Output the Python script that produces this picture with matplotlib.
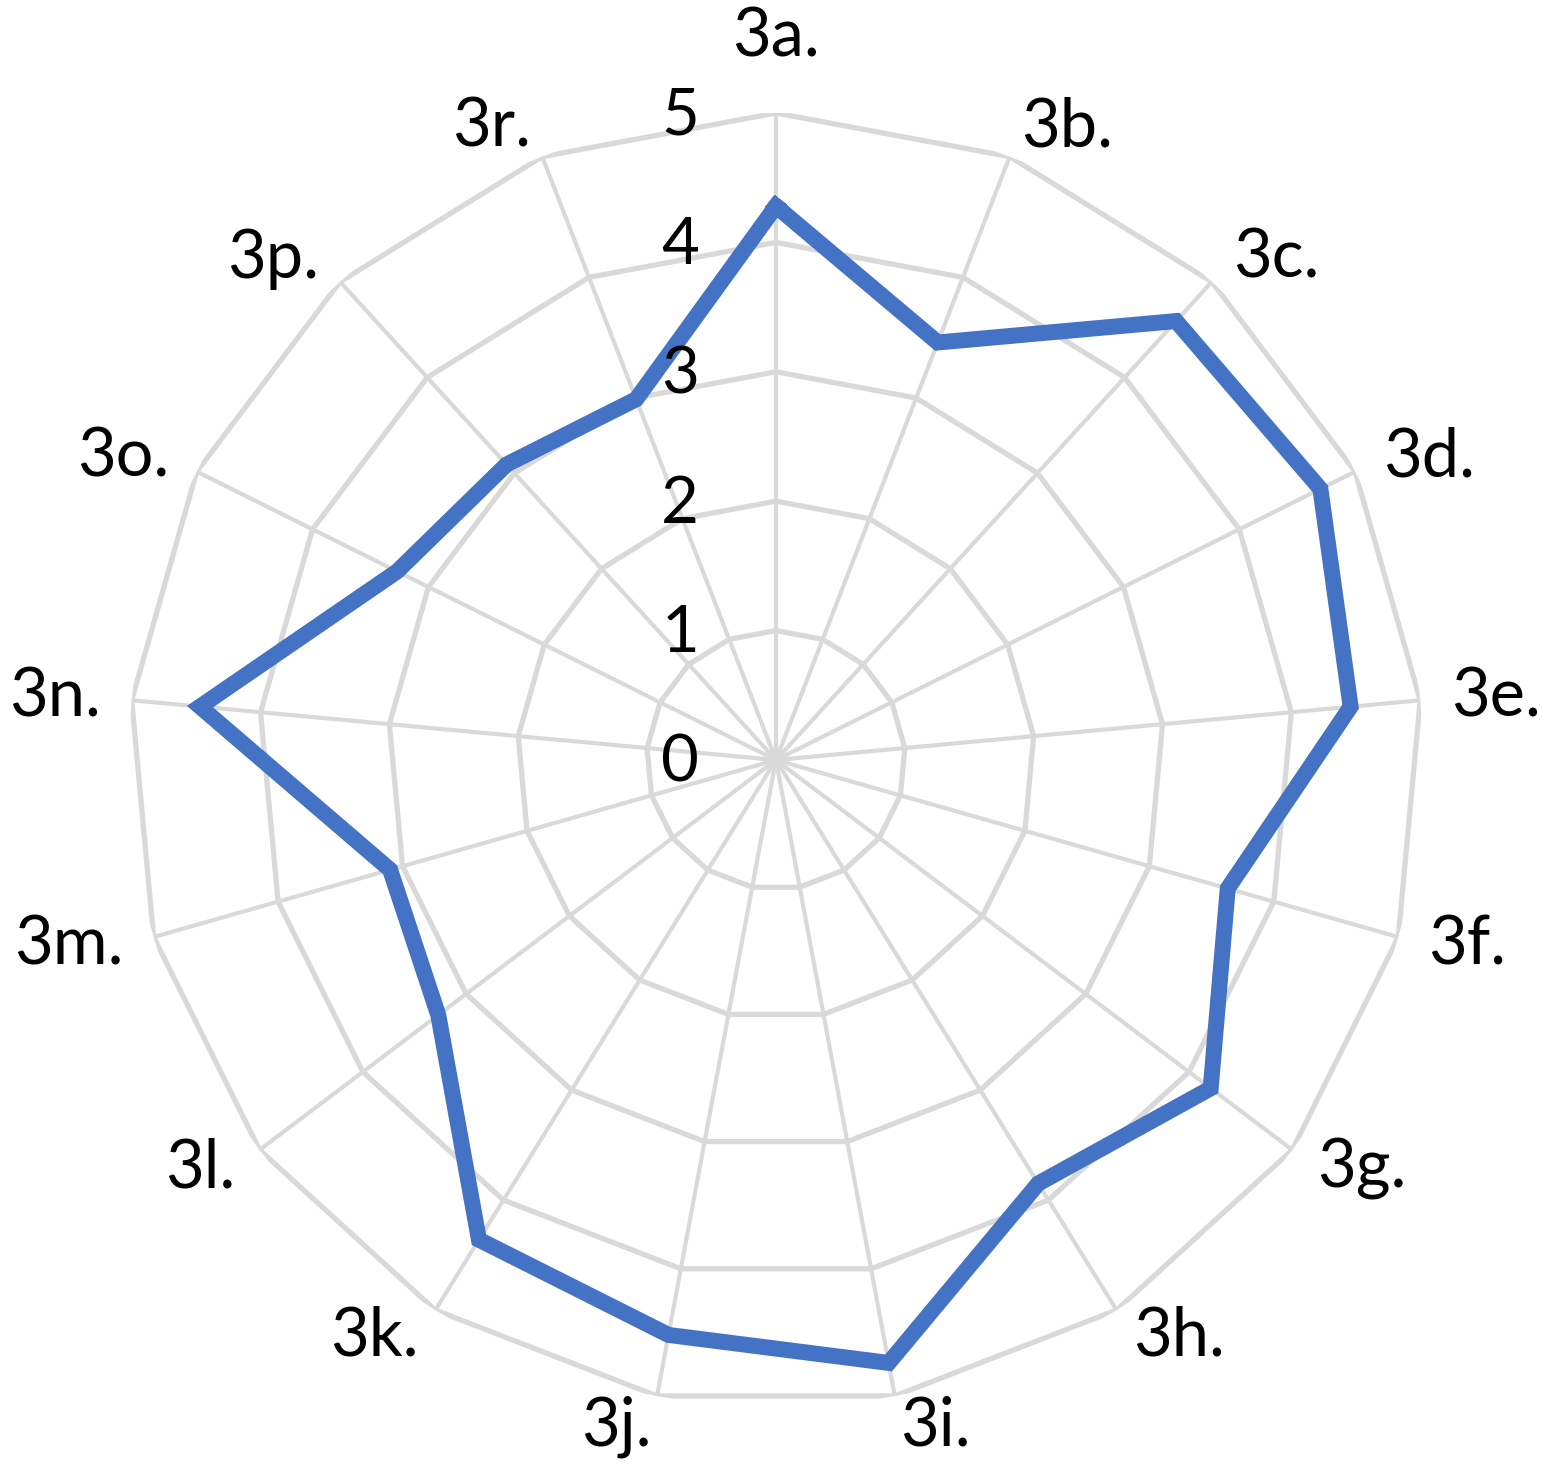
import numpy as np
import matplotlib
matplotlib.use('Agg')
import matplotlib.pyplot as plt

plt.rcParams['font.family'] = ['Lato', 'DejaVu Sans']

categories = ['3a.', '3b.', '3c.', '3d.', '3e.', '3f.', '3g.', '3h.', '3i.',
              '3j.', '3k.', '3l.', '3m.', '3n.', '3o.', '3p.', '3r.']
values = [4.28, 3.46, 4.59, 4.70, 4.46, 3.63, 4.21, 3.85, 4.74,
          4.52, 4.36, 3.27, 3.10, 4.47, 3.27, 3.09, 2.99]
levels = [0, 1, 2, 3, 4, 5]

GRID = '#D9D9D9'
BLUE = '#4472C4'

n = len(categories)
theta = np.linspace(0, 2 * np.pi, n, endpoint=False)
theta_c = np.append(theta, theta[0])

fig = plt.figure(figsize=(15.55, 14.75), dpi=100)
ax = fig.add_axes([0.0829, 0.0461, 0.8322, 0.8773], projection='polar')
ax.set_theta_zero_location('N')
ax.set_theta_direction(-1)
ax.set_ylim(0, 5)
ax.grid(False)
ax.spines['polar'].set_visible(False)
ax.set_xticks([])
ax.set_yticks([])
ax.patch.set_visible(False)

# polygon grid rings
for lv in levels[1:]:
    ax.plot(theta_c, [lv] * (n + 1), color=GRID, lw=3.8, zorder=1,
            solid_joinstyle='miter')
# spokes
for t in theta:
    ax.plot([t, t], [0, levels[-1]], color=GRID, lw=3.0, zorder=1)

# data line
vals_c = values + values[:1]
ax.plot(theta_c, vals_c, color=BLUE, lw=11.5, solid_joinstyle='miter', zorder=3)

# radial tick labels
for lv in levels:
    ax.annotate(str(lv), xy=(0, lv), xytext=(-77, -3), textcoords='offset pixels',
                ha='right', va='center', fontsize=47, color='black', zorder=4)

# category labels
r_lab = 5.24
for t, lab in zip(theta, categories):
    s = np.sin(t)
    r = r_lab
    if abs(s) < 1e-6:
        ha = 'center'
        va = 'bottom' if np.cos(t) > 0 else 'top'
        r = r_lab + 0.1
    else:
        ha = 'left' if s > 0 else 'right'
        va = 'center'
    ax.text(t, r, lab, ha=ha, va=va, fontsize=48, color='black')

fig.savefig('out.png', dpi=100, facecolor='white')
